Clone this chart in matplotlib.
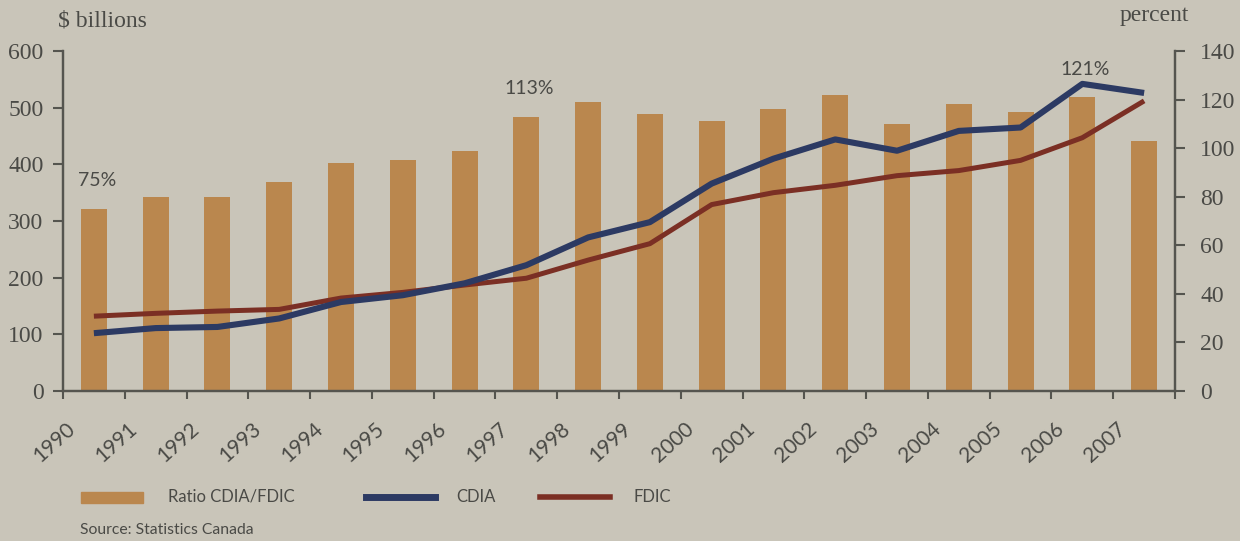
import numpy as np
import matplotlib
matplotlib.use("Agg")
import matplotlib.pyplot as plt
from matplotlib.lines import Line2D
from matplotlib.patches import Rectangle

years = [str(y) for y in range(1990, 2008)]
ratio = [75, 80, 80, 86, 94, 95, 99, 113, 119, 114, 111, 116, 122, 110, 118, 115, 121, 103]
cdia = [102, 111, 113, 128, 157, 169, 190, 222, 271, 298, 366, 410, 444, 424, 459, 465, 542, 526]
fdic = [132, 137, 141, 144, 164, 174, 187, 199, 231, 260, 329, 350, 363, 380, 389, 407, 447, 512]
labelled = {0: "75%", 7: "113%", 16: "121%"}

bg = "#c9c5b9"
bar_col = "#ba874e"
cdia_col = "#2c3a63"
fdic_col = "#7b2f24"
txt = "#4a4a46"
axcol = "#55554f"

fig = plt.figure(figsize=(12.4, 5.41), dpi=100, facecolor=bg)
ax2 = fig.add_axes([0.0508, 0.2773, 0.8968, 0.6284])
ax2.set_facecolor(bg)
ax = ax2.twinx()
# bars on right axis, lines on left axis -> put line axis on top
ax2.yaxis.tick_right()
ax.yaxis.tick_left()

x = np.arange(len(years))
ax2.bar(x, ratio, width=0.42, color=bar_col, zorder=2)
for i, lab in labelled.items():
    ax2.annotate(lab, (x[i], ratio[i]), xytext=(2, 14), textcoords="offset points",
                 ha="center", va="bottom", fontsize=14, color=txt, family="Lato")

ax.plot(x, fdic, color=fdic_col, lw=3.6, solid_capstyle="butt", zorder=3)
ax.plot(x, cdia, color=cdia_col, lw=4.4, solid_capstyle="butt", zorder=4)

ax.set_xlim(-0.5, len(years) - 0.5)
ax.set_ylim(0, 600)
ax2.set_ylim(0, 140)
ax.set_yticks(range(0, 601, 100))
ax2.set_yticks(range(0, 141, 20))

for a in (ax, ax2):
    a.spines["top"].set_visible(False)
    for s in ("left", "right", "bottom"):
        a.spines[s].set_color(axcol)
        a.spines[s].set_linewidth(1.6)

ax.tick_params(axis="y", direction="out", length=7, width=1.5, color=axcol,
               labelsize=17, labelcolor=txt, pad=7)
ax2.tick_params(axis="y", direction="out", length=7, width=1.5, color=axcol,
                labelsize=17, labelcolor=txt, pad=11)
for t in ax.get_yticklabels() + ax2.get_yticklabels():
    t.set_family("Liberation Serif")

# category boundaries as ticks, year labels near the boundaries
ax2.set_xticks(np.arange(-0.5, len(years), 1.0))
ax2.set_xticklabels([])
ax2.tick_params(axis="x", direction="out", length=6, width=1.5, color=axcol)
ax2.set_xticks(x - 0.45, minor=True)
ax2.set_xticklabels(years, minor=True, rotation=42, ha="right", rotation_mode="anchor",
                    fontsize=15, color=txt, family="Lato")
ax2.tick_params(axis="x", which="minor", length=0, pad=20)

fig.text(0.047, 0.962, "$ billions", fontsize=17, color=txt, family="Liberation Serif",
         ha="left", va="center")
fig.text(0.959, 0.972, "percent", fontsize=17, color=txt, family="Liberation Serif",
         ha="right", va="center")

# legend drawn in figure coordinates
ly = 1 - 497 / 541
fig.patches.append(Rectangle((81 / 1240, 1 - 503 / 541), 62 / 1240, 11 / 541,
                             transform=fig.transFigure, color=bar_col))
fig.text(168 / 1240, ly, "Ratio CDIA/FDIC", fontsize=12, color=txt, family="Lato", va="center")
fig.lines.append(Line2D([366 / 1240, 435 / 1240], [ly, ly], transform=fig.transFigure,
                        color=cdia_col, lw=5))
fig.text(456 / 1240, ly, "CDIA", fontsize=12, color=txt, family="Lato", va="center")
fig.lines.append(Line2D([540 / 1240, 610 / 1240], [ly, ly], transform=fig.transFigure,
                        color=fdic_col, lw=4))
fig.text(634 / 1240, ly, "FDIC", fontsize=12, color=txt, family="Lato", va="center")
fig.text(80 / 1240, 1 - 530 / 541, "Source: Statistics Canada", fontsize=11.3, color=txt,
         family="Lato", va="center")

fig.savefig("out.png", dpi=100, facecolor=bg)
